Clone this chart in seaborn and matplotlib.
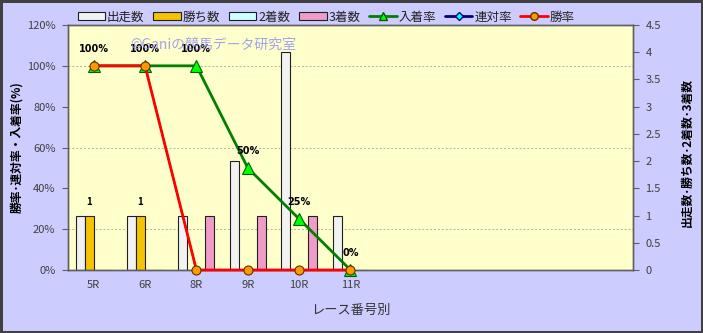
import matplotlib
matplotlib.use("Agg")
import matplotlib.pyplot as plt
import seaborn as sns
import pandas as pd
from matplotlib.ticker import MultipleLocator, FuncFormatter
from matplotlib.patches import Patch
from matplotlib.lines import Line2D

# ---------------- data ----------------
races = ["5R", "6R", "8R", "9R", "10R", "11R"]
blank_slots = [" ", "  ", "   ", "    ", "     "]
starts = [1, 1, 1, 2, 4, 1]          # 出走数
wins = [1, 1, 0, 0, 0, 0]            # 勝ち数
seconds = [0, 0, 0, 0, 0, 0]         # 2着数
thirds = [0, 0, 1, 1, 1, 0]          # 3着数
place_rate = [100, 100, 100, 50, 25, 0]   # 入着率
rentai_rate = [100, 100, 0, 0, 0, 0]      # 連対率
win_rate = [100, 100, 0, 0, 0, 0]         # 勝率
place_labels = ["100%", "100%", "100%", "50%", "25%", "0%"]
win_labels = ["1", "1", "", "", "", ""]
bar_names = ["出走数", "勝ち数", "2着数", "3着数"]

# ---------------- style ----------------
sns.set_theme(style="white")
plt.rcParams["font.family"] = ["Noto Sans CJK JP", "DejaVu Sans"]

bar_colors = {"出走数": "#F2F2F2", "勝ち数": "#F5C400",
              "2着数": "#CCFFFF", "3着数": "#F09CC8"}
fig_bg = "#CCCCFF"
plot_bg = "#FFFFCC"
tick_col = "#404040"

order = races + blank_slots

long = pd.DataFrame({
    "race": races * 4,
    "series": sum([[n] * len(races) for n in bar_names], []),
    "count": starts + wins + seconds + thirds,
})

fig = plt.figure(figsize=(7.03, 3.33), dpi=100, facecolor=fig_bg)
fig.patch.set_edgecolor("#404040")
fig.patch.set_linewidth(2.5)

ax = fig.add_axes([68 / 703, 1 - 270 / 333, (633 - 68) / 703, (270 - 25) / 333])
ax2 = ax.twinx()
ax.set_zorder(2)
ax2.set_zorder(1)
ax.patch.set_visible(False)
ax2.patch.set_facecolor(plot_bg)
ax2.patch.set_visible(True)

# bars (right axis)
sns.barplot(data=long, x="race", y="count", hue="series", order=order,
            hue_order=bar_names, palette=bar_colors, ax=ax2, width=0.7,
            saturation=1, edgecolor="#202020", linewidth=0.8, legend=False,
            errorbar=None)
ax2.bar_label(ax2.containers[1], labels=win_labels, padding=6,
              fontsize=7, fontweight="bold", color="black")

# lines (left axis)
sns.pointplot(x=races, y=place_rate, order=order, ax=ax, color="#008000",
              markers="^", linestyles="-", errorbar=None, legend=False,
              linewidth=2, markersize=8, markerfacecolor="#00FF00",
              markeredgecolor="#006000", markeredgewidth=0.8, clip_on=False,
              zorder=3)
sns.pointplot(x=races, y=rentai_rate, order=order, ax=ax, color="#000080",
              markers="D", linestyles="-", errorbar=None, legend=False,
              linewidth=1.2, markersize=4, markerfacecolor="#00FFFF",
              markeredgecolor="#000080", markeredgewidth=0.6, clip_on=False,
              zorder=3.1)
sns.pointplot(x=races, y=win_rate, order=order, ax=ax, color="#FF0000",
              markers="o", linestyles="-", errorbar=None, legend=False,
              linewidth=2, markersize=6.5, markerfacecolor="#FF9900",
              markeredgecolor="#603000", markeredgewidth=0.8, clip_on=False,
              zorder=3.2)

for i, lab in enumerate(place_labels):
    ax.annotate(lab, (i, place_rate[i]), xytext=(0, 12), textcoords="offset points",
                ha="center", va="center", fontsize=7, fontweight="bold",
                color="black", family=["DejaVu Sans"])

# axes limits / ticks
ax.set_xlim(-0.5, len(order) - 0.5)
ax2.set_xlim(-0.5, len(order) - 0.5)
ax.set_ylim(0, 120)
ax2.set_ylim(0, 4.5)
ax.yaxis.set_major_locator(MultipleLocator(20))
ax.yaxis.set_major_formatter(FuncFormatter(lambda v, p: f"{int(v)}%"))
ax2.yaxis.set_major_locator(MultipleLocator(0.5))
ax2.yaxis.set_major_formatter(FuncFormatter(lambda v, p: f"{v:g}"))

# grid on the background axis
ax2.set_axisbelow(True)
ax2.yaxis.set_minor_locator(MultipleLocator(0.75))
ax2.xaxis.set_minor_locator(MultipleLocator(1, offset=0.5))
ax2.grid(False)
ax.grid(False)
ax2.grid(which="minor", color="#B0B0B0", linestyle=(0, (2, 2)), linewidth=0.7)
ax2.tick_params(axis="y", which="minor", length=0)
ax2.tick_params(axis="x", which="both", length=0)

ax.set_xticks(range(len(order)))
ax.set_xticklabels(order)
ax.tick_params(axis="x", length=0, pad=7, labelsize=8, labelcolor=tick_col)
ax.tick_params(axis="y", left=True, length=4, width=0.8, color="#606060",
               pad=5, labelsize=8, labelcolor=tick_col)
ax2.tick_params(axis="y", which="major", right=True, length=4, width=0.8,
                color="#606060", pad=5, labelsize=8, labelcolor=tick_col)

for a in (ax, ax2):
    for s in a.spines.values():
        s.set_color("#606060")
        s.set_linewidth(1)

ax.set_xlabel("レース番号別", fontsize=9.5, color="#333333", labelpad=10)
ax.set_ylabel("勝率･連対率・入着率(%)", fontsize=8.5, fontweight="bold",
              color="black")
ax.yaxis.set_label_coords((23 - 68) / 565, 0.5)
ax2.set_ylabel("出走数･勝ち数･2着数･3着数", fontsize=8.5, fontweight="bold",
               color="black", rotation=90)
ax2.yaxis.set_label_coords((681 - 68) / 565, 0.48)

# watermark
fig.text(130 / 703, 1 - 45 / 333, "©Ganiの競馬データ研究室", fontsize=10,
         color="#8C8CF5", alpha=0.8, ha="left", va="center", zorder=10)

# legend
handles = [Patch(facecolor=bar_colors[n], edgecolor="#202020", linewidth=0.8)
           for n in bar_names]
handles += [
    Line2D([], [], color="#008000", lw=2, marker="^", markersize=6,
           markerfacecolor="#00FF00", markeredgecolor="#006000"),
    Line2D([], [], color="#000080", lw=2, marker="D", markersize=4,
           markerfacecolor="#00FFFF", markeredgecolor="#000080"),
    Line2D([], [], color="#FF0000", lw=2, marker="o", markersize=5.5,
           markerfacecolor="#FF9900", markeredgecolor="#603000"),
]
labels = bar_names + ["入着率", "連対率", "勝率"]
fig.legend(handles, labels, loc="center", bbox_to_anchor=(0.464, 1 - 17 / 333),
           ncol=7, frameon=False, fontsize=9, handlelength=2.2,
           handleheight=0.6, handletextpad=0.15, columnspacing=0.7,
           labelcolor="#222222")

fig.savefig("out.png", dpi=100, facecolor=fig_bg, edgecolor="#404040")
